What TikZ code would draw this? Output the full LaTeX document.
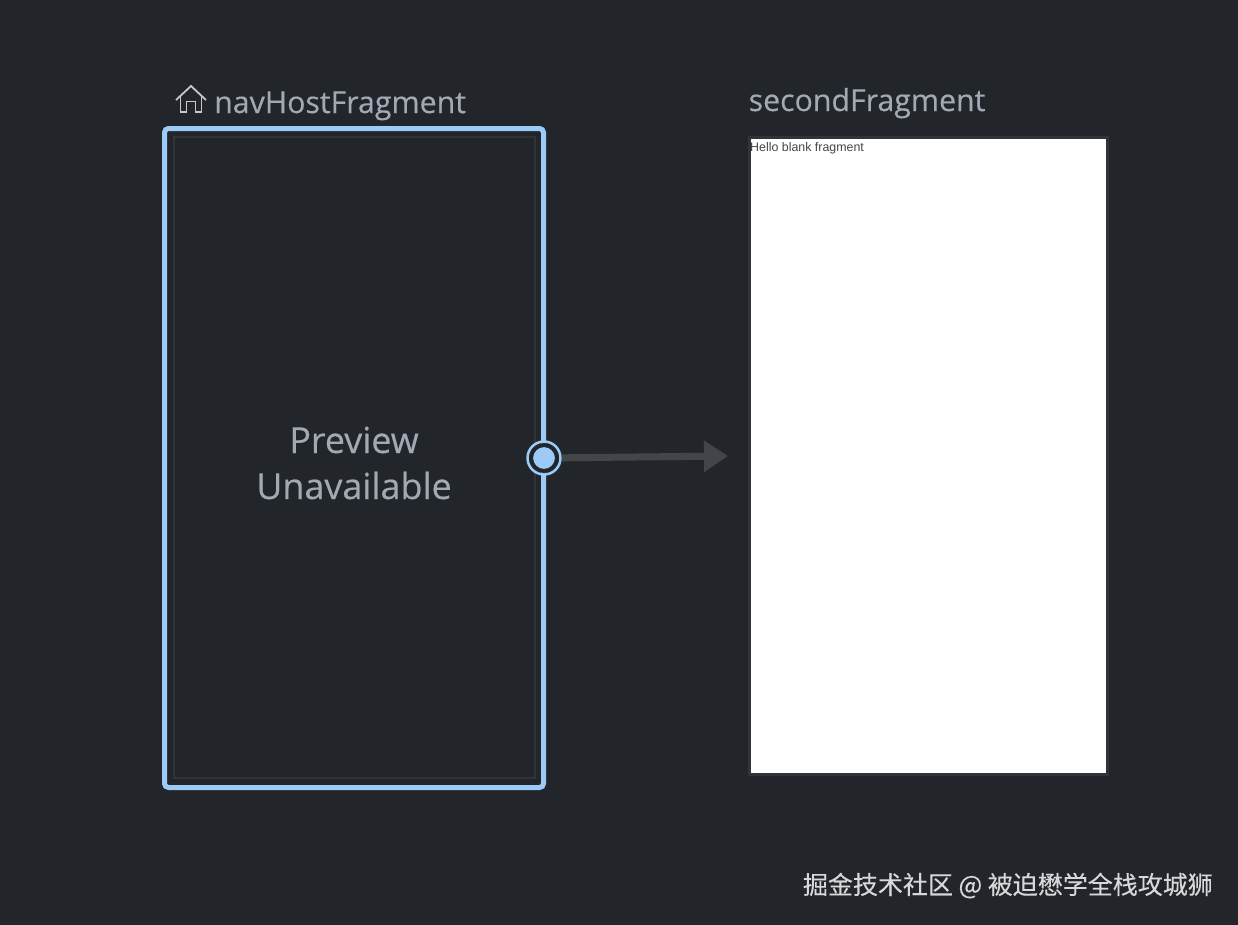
\documentclass[tikz,border=0pt]{standalone}
\usepackage{fontspec}
\setmainfont{Open Sans}
\newfontfamily\cjk[FakeBold=0.15]{Noto Sans CJK SC}
\newfontfamily\robotolike{Liberation Sans}
\newfontfamily\labelfont[FakeBold=0.3]{Open Sans}
\usepackage{xcolor}
\usetikzlibrary{arrows.meta}
\definecolor{bgdark}{HTML}{22252A}
\definecolor{inner}{HTML}{30343A}
\definecolor{selblue}{HTML}{9CCBF8}
\definecolor{labelgray}{HTML}{A3A8B4}
\definecolor{arrowgray}{HTML}{42454A}
\tikzset{%
  tipA/.tip={Triangle[width=30pt,length=24pt]},
  title/.style={anchor=base west,text=labelgray,font=\labelfont\fontsize{30.3}{30.3}\selectfont,inner sep=0pt},
  screen/.style={anchor=north west,inner sep=0pt,outer sep=0pt,minimum width=#1},
}
\begin{document}
\begin{tikzpicture}[x=1pt,y=-1pt]
\useasboundingbox (0,0) rectangle (1238,924);
\fill[bgdark] (-3,-3) rectangle (1241,927);
% left fragment
\node[screen=361.5pt,minimum height=641pt,draw=inner,line width=2pt] (inbox) at (173.5,137) {};
\node[screen=379pt,minimum height=659pt,draw=selblue,line width=5pt,rounded corners=4pt] (navhost) at (164.5,128.5) {};
\node[title] (navlabel) at (214,113) {navHostFragment};
% home icon
\draw[white!75!bgdark,line width=1.8pt,line join=miter] (176,100)--(191,86)--(206,100);
\draw[white!75!bgdark,line width=1.8pt] (180.5,97)--(180.5,112)--(186.5,112)--(186.5,101.5)--(195.5,101.5)--(195.5,112)--(201.5,112)--(201.5,97);
\node[text=labelgray,font=\labelfont\fontsize{35.9}{46}\selectfont,align=center] (preview) at (354,463) {Preview\\Unavailable};
% right fragment
\node[screen=358pt,minimum height=637pt,fill=white,draw=inner,line width=3pt] (second) at (749,137) {};
\node[title] (secondlabel) at (748.5,111) {secondFragment};
\node[anchor=base west,inner sep=0pt,text=bgdark!85!white,font=\robotolike\fontsize{12.4}{12.4}\selectfont] (hello) at (750,151) {Hello blank fragment};
% action
\node[circle,fill=selblue,draw=bgdark,line width=4pt,minimum size=26pt,inner sep=0pt] (dot) at (544,458) {};
\node[circle,draw=selblue,line width=2.5pt,minimum size=33pt,inner sep=0pt] (ring) at (544,458) {};
\coordinate (target) at (728,456);
\draw[arrowgray,line width=7pt,-tipA] (ring) -- (target);
\node[anchor=base east,inner sep=0pt,text=white!82!bgdark,font=\cjk\fontsize{25}{25}\selectfont] (mark) at (1213,894) {掘金技术社区 @ 被迫懋学全栈攻城狮};
\end{tikzpicture}
\end{document}
